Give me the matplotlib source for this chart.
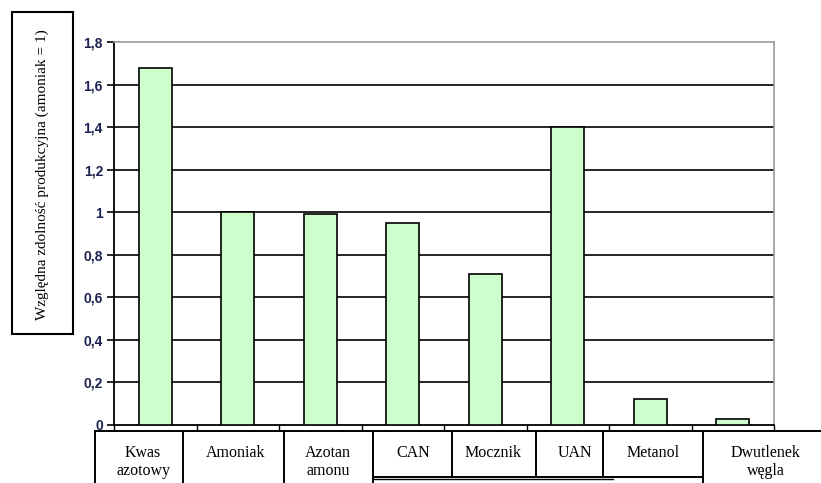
import matplotlib
matplotlib.use("Agg")
import matplotlib.pyplot as plt
from matplotlib.lines import Line2D
from matplotlib.patches import Rectangle
import numpy as np

categories = ["Kwas\nazotowy", "Amoniak", "Azotan\namonu", "CAN", "Mocznik",
              "UAN", "Metanol", "Dwutlenek\nwęgla"]
values = [1.68, 1.0, 0.99, 0.95, 0.71, 1.40, 0.12, 0.03]
ytick_vals = [0, 0.2, 0.4, 0.6, 0.8, 1.0, 1.2, 1.4, 1.6, 1.8]
ytick_labels = ["0", "0,2", "0,4", "0,6", "0,8", "1", "1,2", "1,4", "1,6", "1,8"]
ylabel = "Względna zdolność produkcyjna (amoniak = 1)"

W, H = 821, 483
fig = plt.figure(figsize=(W / 100, H / 100), dpi=100)

def fx(px):
    return px / W

def fy(py):
    return 1 - py / H

ax = fig.add_axes([fx(114), fy(425), fx(774) - fx(114), fy(42) - fy(425)])
x = np.arange(len(values))
ax.bar(x, values, width=0.4, color="#ccffcc", edgecolor="black", linewidth=1.2, zorder=3)
ax.set_xlim(-0.5, len(values) - 0.5)
ax.set_ylim(0, 1.8)
ax.set_yticks(ytick_vals)
ax.set_yticklabels(ytick_labels, family="Liberation Sans", fontsize=10,
                   fontweight="bold", color="#1c2250")
ax.tick_params(axis="y", direction="out", length=5, width=1.2, pad=3)
ax.set_xticks([])
ax.set_xticks(np.arange(-0.5, len(values)), minor=True)
ax.tick_params(axis="x", which="minor", direction="out", length=4.3, width=1.0)
for v in ytick_vals[1:-1]:
    ax.axhline(v, color="black", linewidth=1.2, zorder=1)
for s in ["top", "right"]:
    ax.spines[s].set_color("#999999")
    ax.spines[s].set_linewidth(1.2)
for s in ["left", "bottom"]:
    ax.spines[s].set_color("black")
    ax.spines[s].set_linewidth(1.3)

# y-label box
fig.add_artist(Rectangle((fx(12), fy(334)), fx(73) - fx(12), fy(12) - fy(334),
                         transform=fig.transFigure, fill=False,
                         edgecolor="black", linewidth=1.5))
fig.text(fx(42), fy(175), ylabel, rotation=90, ha="center", va="center",
         family="Liberation Serif", fontsize=11)

# category label boxes
def line(x0, y0, x1, y1, lw=1.4):
    fig.add_artist(Line2D([fx(x0), fx(x1)], [fy(y0), fy(y1)],
                          transform=fig.transFigure, color="black", linewidth=lw))

line(95, 431, 821, 431)
for xv in [95, 183, 284, 373, 703]:
    line(xv, 431, xv, 483)
for xv in [452, 536, 603]:
    line(xv, 431, xv, 477)
line(373, 477, 703, 477)
line(373, 479, 613, 479, lw=1.0)

label_x = [143, 236, 328, 413, 493, 575, 653, 766]
for lx, lab in zip(label_x, categories):
    fig.text(fx(lx), fy(445), lab, ha="center", va="top",
             family="Liberation Serif", fontsize=11.5, linespacing=1.2)

fig.savefig("out.png", dpi=100)
